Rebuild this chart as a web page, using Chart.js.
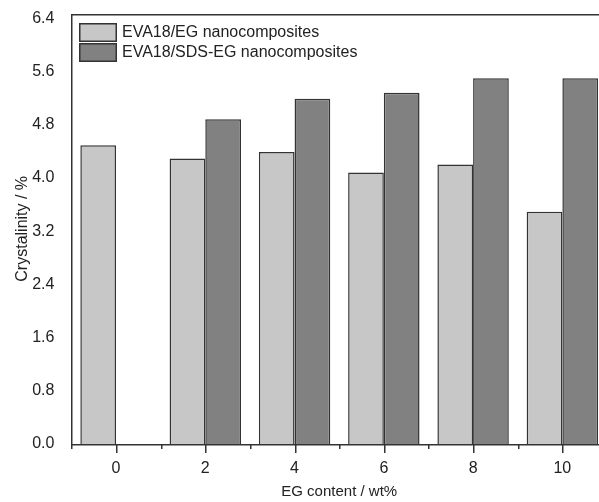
<!DOCTYPE html>
<html>
<head>
<meta charset="utf-8">
<script src="https://cdn.jsdelivr.net/npm/chart.js@4"></script>
<style>
  html, body { margin: 0; padding: 0; background: #fff; overflow: hidden; }
  /* chart.js keeps ~19px above the plot for the top tick label; pull it up */
  #crystChart { display: block; margin-top: -5px; }
</style>
</head>
<body>
<canvas id="crystChart" width="640" height="507"></canvas>
<script>
// EG loading (wt%) and measured crystallinity for each composite series
const egContent = ['0', '2', '4', '6', '8', '10'];
const evaEg = [4.49, 4.29, 4.39, 4.08, 4.20, 3.49];
const evaSdsEg = [null, 4.88, 5.19, 5.28, 5.50, 5.50];
const seriesNames = ['EVA18/EG nanocomposites', 'EVA18/SDS-EG nanocomposites'];
const yTicks = [0, 0.8, 1.6, 2.4, 3.2, 4.0, 4.8, 5.6, 6.4];

const FONT = 'Arial, "Liberation Sans", sans-serif';
const INK = '#222';
const LINE = '#333';

// Box around the plot area, plus major/minor tick marks on the x axis
const framePlugin = {
  id: 'plotFrame',
  afterDraw(chart) {
    const ctx = chart.ctx;
    const a = chart.chartArea;
    const xs = chart.scales.x;
    const L = Math.round(a.left);
    const T = Math.round(a.top);
    const B = Math.round(a.bottom);
    const R = Math.round(a.right);

    ctx.save();
    ctx.fillStyle = LINE;
    ctx.fillRect(L, T, R - L, 1.5);       // top
    ctx.fillRect(L, B, R - L, 1.5);       // bottom
    ctx.fillRect(L, T, 1.5, B - T + 1);   // left
    ctx.fillRect(R, T, 1.5, B - T + 1);   // right

    // major ticks under each group, minor ticks between groups
    const centers = egContent.map((_, i) => xs.getPixelForTick(i));
    const step = centers[1] - centers[0];
    centers.forEach(cx => ctx.fillRect(Math.round(cx), B, 1.5, 9));
    for (let i = 0; i <= centers.length; i++) {
      const bx = Math.round(centers[0] - step / 2 + i * step);
      ctx.fillRect(bx, B, 1.5, 5);
    }
    ctx.restore();
  }
};

// Legend drawn inside the top-left corner of the plot
const innerLegend = {
  id: 'innerLegend',
  afterDraw(chart) {
    const ctx = chart.ctx;
    const a = chart.chartArea;
    ctx.save();
    ctx.font = '16px ' + FONT;
    ctx.textBaseline = 'middle';
    chart.data.datasets.forEach((ds, i) => {
      const bx = Math.round(a.left) + 8;
      const by = Math.round(a.top) + 9 + i * 20;
      ctx.fillStyle = ds.backgroundColor;
      ctx.fillRect(bx, by, 38, 19);
      ctx.strokeStyle = LINE;
      ctx.lineWidth = 1.5;
      ctx.strokeRect(bx + 0.75, by + 0.75, 36.5, 17.5);
      ctx.fillStyle = INK;
      ctx.fillText(ds.label, bx + 43, by + 10);
    });
    ctx.restore();
  }
};

new Chart(document.getElementById('crystChart'), {
  type: 'bar',
  data: {
    labels: egContent,
    datasets: [
      {
        label: seriesNames[0],
        data: evaEg,
        backgroundColor: '#c7c7c7',
        borderColor: LINE,
        borderWidth: 1.5,
        categoryPercentage: 0.8,
        barPercentage: 1.0
      },
      {
        label: seriesNames[1],
        data: evaSdsEg,
        backgroundColor: '#818181',
        borderColor: LINE,
        borderWidth: 1.5,
        categoryPercentage: 0.8,
        barPercentage: 1.0
      }
    ]
  },
  options: {
    responsive: false,
    animation: false,
    layout: { padding: { top: 0, left: 0, right: 33, bottom: 0 } },
    plugins: {
      legend: { display: false },
      tooltip: { enabled: false }
    },
    scales: {
      x: {
        grid: { display: false },
        border: { display: false },
        ticks: { color: INK, font: { family: FONT, size: 16 }, padding: 7 },
        title: {
          display: true,
          text: 'EG content / wt%',
          color: INK,
          font: { family: FONT, size: 15 },
          padding: { top: 0, bottom: 1 }
        },
        afterFit(scale) { scale.height = 58; }
      },
      y: {
        min: 0,
        max: 6.47,
        afterBuildTicks(scale) { scale.ticks = yTicks.map(v => ({ value: v })); },
        grid: { display: false },
        border: { display: false },
        ticks: {
          color: INK,
          font: { family: FONT, size: 16 },
          padding: 9,
          callback: v => v.toFixed(1)
        },
        title: {
          display: true,
          text: 'Crystalinity / %',
          color: INK,
          font: { family: FONT, size: 16 },
          padding: { top: 13, bottom: 0 }
        },
        afterFit(scale) { scale.width = 71.4; }
      }
    }
  },
  plugins: [framePlugin, innerLegend]
});
</script>
</body>
</html>
